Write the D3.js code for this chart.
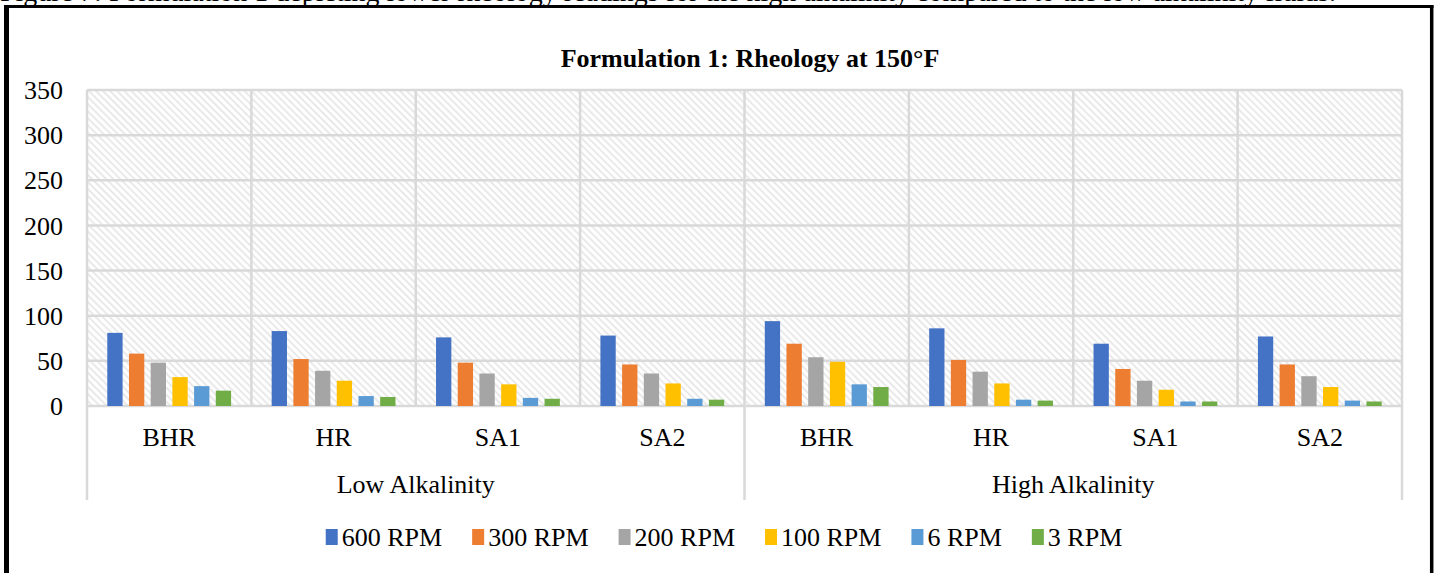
<!DOCTYPE html>
<html>
<head>
<meta charset="utf-8">
<script src="https://cdn.jsdelivr.net/npm/d3@7"></script>
<style>
    body { margin: 0; background: #fff; }
    svg text { font-family: "Times New Roman", "Liberation Serif", serif; fill: #000; }
</style>
</head>
<body>
<div id="chart"></div>
<script>
const width = 1440;
const height = 573;

// Data
const groups = ["Low Alkalinity", "High Alkalinity"];
const formulations = ["BHR", "HR", "SA1", "SA2"];
const speeds = ["600 RPM", "300 RPM", "200 RPM", "100 RPM", "6 RPM", "3 RPM"];
const colors = ["#4472C4", "#ED7D31", "#A5A5A5", "#FFC000", "#5B9BD5", "#70AD47"];
// order: Low BHR, HR, SA1, SA2, High BHR, HR, SA1, SA2
const rpm600 = [81, 83, 76, 78, 94, 86, 69, 77];
const rpm300 = [58, 52, 48, 46, 69, 51, 41, 46];
const rpm200 = [48, 39, 36, 36, 54, 38, 28, 33];
const rpm100 = [32, 28, 24, 25, 49, 25, 18, 21];
const rpm6 = [22, 11, 9, 8, 24, 7, 5, 6];
const rpm3 = [17, 10, 8, 7, 21, 6, 5, 5];
const series = [rpm600, rpm300, rpm200, rpm100, rpm6, rpm3];
const yTicks = [0, 50, 100, 150, 200, 250, 300, 350];

const categories = [];
groups.forEach((g) => formulations.forEach((f) => categories.push({ group: g, name: f, key: g + "|" + f })));

const margin = { top: 90, right: 38, bottom: 167, left: 87 };

const svg = d3
    .select("#chart")
    .append("svg")
    .attr("width", width)
    .attr("height", height);

// caption of the figure, cut off at the top edge as in the source
svg.append("text")
    .attr("x", 0)
    .attr("y", 1)
    .attr("font-size", 28)
    .text("Figure 7: Formulation 1 depicting lower rheology readings for the high alkalinity compared to the low alkalinity fluids.");

// outer frame
svg.append("line").attr("x1", 6.5).attr("x2", 6.5).attr("y1", 5).attr("y2", height).attr("stroke", "#000").attr("stroke-width", 5);
svg.append("line").attr("x1", 4).attr("x2", 1433.5).attr("y1", 6.5).attr("y2", 6.5).attr("stroke", "#000").attr("stroke-width", 3);
svg.append("line").attr("x1", 1431.7).attr("x2", 1431.7).attr("y1", 5).attr("y2", height).attr("stroke", "#000").attr("stroke-width", 3.5);

// hatch pattern for the plot area
const defs = svg.append("defs");
defs.append("pattern")
    .attr("id", "hatch")
    .attr("patternUnits", "userSpaceOnUse")
    .attr("width", 5)
    .attr("height", 5)
    .attr("patternTransform", "rotate(45)")
    .append("line")
    .attr("x1", 0).attr("x2", 5)
    .attr("y1", 1.5).attr("y2", 1.5)
    .attr("stroke", "#e2e2e2")
    .attr("stroke-width", 1.6);

const x0 = d3
    .scaleBand()
    .domain(categories.map((d) => d.key))
    .range([margin.left, width - margin.right]);

const x1 = d3
    .scaleBand()
    .domain(d3.range(speeds.length))
    .range([0, x0.bandwidth()])
    .paddingInner(0.295)
    .paddingOuter(0.935);

const y = d3
    .scaleLinear()
    .domain([0, 350])
    .range([height - margin.bottom, margin.top]);

svg.append("rect")
    .attr("x", margin.left)
    .attr("y", margin.top)
    .attr("width", width - margin.left - margin.right)
    .attr("height", y(0) - margin.top)
    .attr("fill", "url(#hatch)");

// gridlines
svg.append("g")
    .selectAll("line")
    .data(yTicks)
    .join("line")
    .attr("x1", margin.left)
    .attr("x2", width - margin.right)
    .attr("y1", (d) => y(d))
    .attr("y2", (d) => y(d))
    .attr("stroke", "#d9d9d9")
    .attr("stroke-width", 2.5);

const bounds = categories.map((d) => x0(d.key)).concat([width - margin.right]);
svg.append("g")
    .selectAll("line")
    .data(bounds)
    .join("line")
    .attr("x1", (d) => d)
    .attr("x2", (d) => d)
    .attr("y1", margin.top)
    .attr("y2", y(0))
    .attr("stroke", "#d9d9d9")
    .attr("stroke-width", 2.5);

// group dividers below the axis
const groupBounds = [x0(categories[0].key), x0(categories[4].key), width - margin.right];
svg.append("g")
    .selectAll("line")
    .data(groupBounds)
    .join("line")
    .attr("x1", (d) => d)
    .attr("x2", (d) => d)
    .attr("y1", y(0))
    .attr("y2", 500)
    .attr("stroke", "#d9d9d9")
    .attr("stroke-width", 2.5);

// bars
const catG = svg.append("g")
    .selectAll("g")
    .data(categories)
    .join("g")
    .attr("transform", (d) => `translate(${x0(d.key)},0)`);

catG.selectAll("rect")
    .data((d, i) => series.map((s, j) => ({ s: j, v: s[i] })))
    .join("rect")
    .attr("x", (d) => x1(d.s))
    .attr("width", x1.bandwidth())
    .attr("y", (d) => y(d.v))
    .attr("height", (d) => y(0) - y(d.v))
    .attr("fill", (d) => colors[d.s]);

// y tick labels
svg.append("g")
    .selectAll("text")
    .data(yTicks)
    .join("text")
    .attr("x", 63)
    .attr("y", (d) => y(d))
    .attr("dy", "0.35em")
    .attr("text-anchor", "end")
    .attr("font-size", 26)
    .text((d) => d);

// category labels
svg.append("g")
    .selectAll("text")
    .data(categories)
    .join("text")
    .attr("x", (d) => x0(d.key) + x0.bandwidth() / 2)
    .attr("y", 446)
    .attr("text-anchor", "middle")
    .attr("font-size", 26)
    .text((d) => d.name);

svg.append("g")
    .selectAll("text")
    .data(groups)
    .join("text")
    .attr("x", (d, i) => (groupBounds[i] + groupBounds[i + 1]) / 2)
    .attr("y", 493)
    .attr("text-anchor", "middle")
    .attr("font-size", 26)
    .text((d) => d);

// title
svg.append("text")
    .attr("x", 750)
    .attr("y", 67)
    .attr("text-anchor", "middle")
    .attr("font-size", 26)
    .attr("font-weight", "bold")
    .text("Formulation 1: Rheology at 150°F");

// legend
const legend = svg.append("g");
const items = legend
    .selectAll("g")
    .data(speeds)
    .join("g");
items.append("rect")
    .attr("y", 529)
    .attr("width", 12)
    .attr("height", 16)
    .attr("fill", (d, i) => colors[i]);
items.append("text")
    .attr("x", 16)
    .attr("y", 546)
    .attr("font-size", 26)
    .text((d) => d);

let offset = 0;
const offsets = [];
items.each(function () {
    offsets.push(offset);
    const w = d3.select(this).select("text").node().getComputedTextLength();
    offset += 16 + w + 30;
});
const total = offset - 30;
const startX = 724 - total / 2;
items.attr("transform", (d, i) => `translate(${startX + offsets[i]},0)`);
</script>
</body>
</html>
